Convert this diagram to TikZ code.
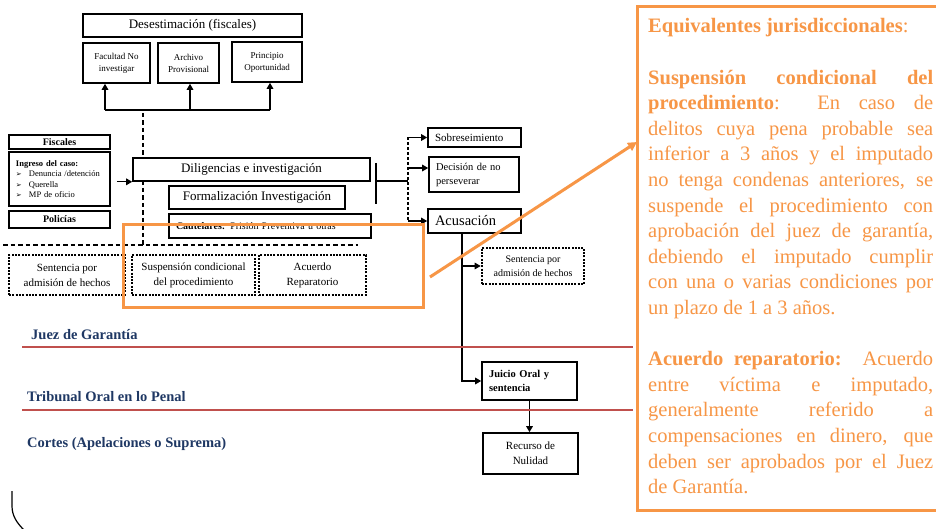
\documentclass[tikz,border=0pt]{standalone}
\usepackage{fontspec}
\setmainfont{Liberation Serif}
\newfontfamily\djv{DejaVu Sans}
\usetikzlibrary{arrows.meta}
\definecolor{orng}{RGB}{247,150,70}
\definecolor{navy}{RGB}{31,56,100}
\definecolor{redl}{RGB}{192,80,77}
\newcommand\fsz[2]{\fontsize{#1}{#2}\selectfont}
\newcommand\bul{\makebox[13pt][l]{\djv\fontsize{7}{8}\selectfont ➢}}
\begin{document}
\begin{tikzpicture}[x=1pt,y=-1pt,
  bx/.style={draw, line width=1.6pt, fill=white, inner sep=0pt, align=center},
  dbx/.style={draw, line width=2.6pt, dash pattern=on 2pt off 1.3pt, fill=white, inner sep=0pt, align=center},
  arr/.style={line width=1.4pt, -{Triangle[length=6pt,width=6.5pt]}},
  ln/.style={line width=1.4pt},
  dsh/.style={line width=1.8pt, dash pattern=on 4.5pt off 3pt},
  dsh2/.style={line width=1.2pt, dash pattern=on 3pt off 2pt},
  lbl/.style={font=\fsz{14.5}{17}\bfseries, text=navy, anchor=west, inner sep=0pt},
  redline/.style={draw=redl, line width=1.6pt},
  orng line/.style={draw=orng, line width=3pt},
]
\useasboundingbox (0,0) rectangle (936,529);
\fill[white] (0,0) rectangle (936,529);

% dashed separators
\coordinate (dtop) at (143,113);
\coordinate (dbot) at (143,246);
\draw[dsh] (dtop) -- (dbot);
\coordinate (hl) at (3,245);
\coordinate (hr) at (358,245);
\draw[dsh] (hl) -- (hr);

% Desestimacion
\node[bx, minimum width=219pt, minimum height=23pt, font=\fsz{13}{15}] (des) at (192.5,25.5) {Desestimación (fiscales)};
\node[bx, minimum width=67pt, minimum height=40pt, font=\fsz{9}{12}] (fac) at (116.5,63) {Facultad No\\investigar};
\node[bx, minimum width=61pt, minimum height=40pt, font=\fsz{9}{12}] (arc) at (188.5,63) {Archivo\\Provisional};
\node[bx, minimum width=70pt, minimum height=40pt, font=\fsz{9}{12}] (pri) at (267,62) {Principio\\Oportunidad};

\coordinate (bl) at (105,110);
\coordinate (bm) at (190,110);
\coordinate (br) at (270,110);
\draw[ln] (bl) -- (br);
\draw[arr] (bl) -- (bl |- fac.south);
\draw[arr] (bm) -- (bm |- arc.south);
\draw[arr] (br) -- (br |- pri.south);

% Fiscales / Policias
\node[bx, minimum width=101pt, minimum height=14pt, font=\fsz{10}{12}\bfseries] (fis) at (59.5,142) {Fiscales};
\node[bx, minimum width=101pt, minimum height=54pt, text width=87pt, align=left, font=\fsz{8.5}{10.5}] (ing) at (59.5,179)
  {\textbf{Ingreso del caso:}\\\bul Denuncia /detención\\\bul Querella\\\bul MP de oficio};
\node[bx, minimum width=101pt, minimum height=17pt, font=\fsz{10}{12}\bfseries] (pol) at (59.5,219.5) {Policías};

% Diligencias
\node[bx, minimum width=237pt, minimum height=23pt, font=\fsz{13}{15}] (dil) at (251.5,169.5) {Diligencias e investigación};
\node[bx, minimum width=176pt, minimum height=23pt, font=\fsz{13}{15}] (frm) at (257,197.5) {Formalización Investigación};
\node[bx, minimum width=202pt, minimum height=24pt, text width=188pt, align=left, font=\fsz{10}{12}] (cau) at (270,226) {\textbf{Cautelares:} Prisión Preventiva u otras};
\draw[arr] ([xshift=6pt]ing.east |- dil.south west) -- (dil.south west);

% right branch
\node[bx, minimum width=93pt, minimum height=19pt, text width=79pt, align=left, font=\fsz{11}{13}] (sob) at (474.5,137.5) {Sobreseimiento};
\node[bx, minimum width=90pt, minimum height=35pt, text width=76pt, align=left, font=\fsz{10.5}{14}] (dec) at (474,174.5) {Decisión de no\\perseverar};
\node[bx, minimum width=93pt, minimum height=24pt, text width=79pt, align=left, font=\fsz{14.5}{16}] (acu) at (474.5,221) {Acusación};

\coordinate (bt) at (376,163);
\coordinate (bb) at (376,204);
\draw[ln] (bt) -- (bb);
\coordinate (bj) at (376,181);
\coordinate (dj) at (408,181);
\draw[ln] (bj) -- (dj);
\coordinate (dv1) at (408,137.5);
\coordinate (dvd) at (408,168);
\coordinate (dv2) at (408,221);
\draw[dsh2] (dv1) -- (dv2);
\draw[arr] (dv1) -- (sob.west);
\draw[arr] (dvd) -- (dvd -| dec.west);
\draw[arr] (dv2) -- (acu.west);

\node[dbx, minimum width=102pt, minimum height=36pt, font=\fsz{10}{14}] (sen2) at (533,266) {Sentencia por\\admisión de hechos};
\node[bx, minimum width=95pt, minimum height=38pt, text width=81pt, align=left, font=\fsz{10.5}{14}\bfseries] (jui) at (529.5,381) {Juicio Oral y\\sentencia};
\node[bx, minimum width=95pt, minimum height=41pt, font=\fsz{11}{15}] (rec) at (530.5,453.5) {Recurso de\\Nulidad};

\draw[arr] ([xshift=-12.5pt]acu.south) |- (jui.west);
\coordinate (sj) at (462,266);
\draw[arr] (sj) -- (sen2.west);
\draw[arr] (jui.south) -- (jui.south |- rec.north);

% left dotted boxes
\node[dbx, minimum width=116pt, minimum height=40pt, font=\fsz{11}{15}] (sen1) at (67,275) {Sentencia por\\admisión de hechos};
\node[dbx, minimum width=123pt, minimum height=40pt, font=\fsz{11}{15}] (sus) at (193.5,275) {Suspensión condicional\\del procedimiento};
\node[dbx, minimum width=107pt, minimum height=40pt, font=\fsz{11}{15}] (acr) at (312.5,275) {Acuerdo\\Reparatorio};

% orange highlight
\node[orng line, minimum width=300pt, minimum height=82pt, inner sep=0pt] (orect) at (273,266) {};
\node[orng line, minimum width=303pt, minimum height=503pt, inner sep=0pt, fill=white] (obox) at (788.5,258.5) {};
\coordinate (os) at (430,277);
\coordinate (oe) at (637,142);
\draw[orng, line width=3pt, -{Triangle[length=9pt,width=9pt]}] (os) -- (oe);

\node[anchor=base west, inner sep=0pt, text=orng] (otext) at (648,33) {\parbox[t]{285pt}{\fsz{20.5}{25.6}\tolerance=10000\hbadness=10000
\textbf{Equivalentes jurisdiccionales}:\par
\mbox{}\par
\textbf{Suspensión condicional del}\linebreak
\textbf{procedimiento}:\ \ En caso de\linebreak
delitos cuya pena probable sea\linebreak
inferior a 3 años y el imputado\linebreak
no tenga condenas anteriores, se\linebreak
suspende el procedimiento con\linebreak
aprobación del juez de garantía,\linebreak
debiendo el imputado cumplir\linebreak
con una o varias condiciones por\linebreak
un plazo de 1 a 3 años.\par
\mbox{}\par
\textbf{Acuerdo reparatorio:}\ \ Acuerdo\linebreak
entre víctima e imputado,\linebreak
generalmente referido a\linebreak
compensaciones en dinero, que\linebreak
deben ser aprobados por el Juez\linebreak
de Garantía.}};

% court levels
\coordinate (r1l) at (22,347);
\coordinate (r1r) at (633,347);
\coordinate (r2l) at (22,410);
\coordinate (r2r) at (633,410);
\draw[redline] (r1l) -- (r1r);
\draw[redline] (r2l) -- (r2r);
\node[lbl] (juez) at (31,335) {Juez de Garantía};
\node[lbl] (trib) at (27,397) {Tribunal Oral en lo Penal};
\node[lbl] (cort) at (27,444) {Cortes (Apelaciones o Suprema)};

% corner curve
\coordinate (c1) at (12,491);
\coordinate (c2) at (12,506);
\coordinate (c3) at (24,530);
\draw[line width=1.2pt] (c1) -- (c2) .. controls (12,516) and (17,523) .. (c3);
\end{tikzpicture}
\end{document}
